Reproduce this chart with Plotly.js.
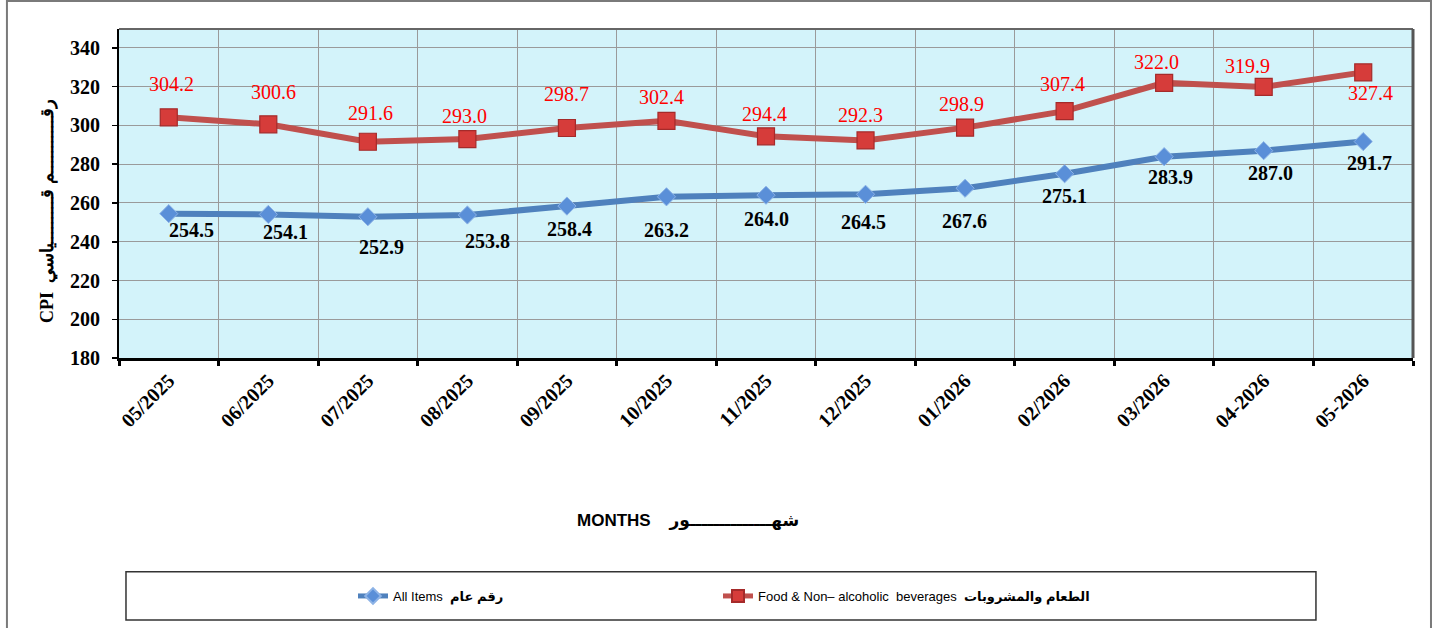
<!DOCTYPE html>
<html>
<head>
<meta charset="utf-8">
<script src="https://cdn.plot.ly/plotly-3.0.1.min.js"></script>
<style>
  html, body { margin: 0; padding: 0; background: #fff; }
  #chart { width: 1437px; height: 628px; }
</style>
</head>
<body>
<div id="chart"></div>
<script>
// ---- Data ----
const months = ["05/2025","06/2025","07/2025","08/2025","09/2025","10/2025","11/2025","12/2025","01/2026","02/2026","03/2026","04-2026","05-2026"];
const allItems = [254.5, 254.1, 252.9, 253.8, 258.4, 263.2, 264.0, 264.5, 267.6, 275.1, 283.9, 287.0, 291.7];
const foodBev  = [304.2, 300.6, 291.6, 293.0, 298.7, 302.4, 294.4, 292.3, 298.9, 307.4, 322.0, 319.9, 327.4];
const yTicks = [180, 200, 220, 240, 260, 280, 300, 320, 340];

const allName  = "All Items  <b>رقم عام</b>";
const foodName = "Food &amp; Non– alcoholic  beverages  <b>الطعام والمشروبات</b>";

// ---- Label placement offsets (style, pixels) ----
const foodLabelDx = [3, 5, 3, -3, 0, -5, -2, -5, -4, -2, -8, -16, 7];
const foodLabelDy = [33, 32, 29, 23, 34, 24, 22, 25, 24, 27, 21, 21, -21];
const allLabelDx  = [23, 17, 14, 20, 3, 0, 0, -2, -1, 0, 6, 7, 6];
const allLabelDy  = [-16, -18, -30, -26, -23, -33, -24, -28, -33, -22, -20, -22, -21];

const serif = "Liberation Serif, Times New Roman, DejaVu Serif, serif";
const sans = "Liberation Sans, Arial, DejaVu Sans, sans-serif";

const traces = [
  {
    x: months, y: allItems, type: "scatter", mode: "lines+markers",
    name: allName, legend: "legend",
    line: { color: "#4f81bd", width: 6 },
    marker: { symbol: "diamond", size: 14, color: "#5a8fd8",
      line: { color: "#8db3e6", width: 1 } },
    cliponaxis: false
  },
  {
    x: months, y: foodBev, type: "scatter", mode: "lines+markers",
    name: foodName, legend: "legend2",
    line: { color: "#c0504d", width: 6 },
    marker: { symbol: "square", size: 17, color: "#d63c3a",
      line: { color: "#a52a2a", width: 1.2 } },
    cliponaxis: false
  }
];

const annotations = [];
months.forEach((m, i) => {
  annotations.push({
    x: m, y: foodBev[i], xref: "x", yref: "y", showarrow: false,
    text: foodBev[i].toFixed(1), xshift: foodLabelDx[i], yshift: foodLabelDy[i],
    font: { family: serif, size: 20, color: "#ff0000" }
  });
  annotations.push({
    x: m, y: allItems[i], xref: "x", yref: "y", showarrow: false,
    text: "<b>" + allItems[i].toFixed(1) + "</b>", xshift: allLabelDx[i], yshift: allLabelDy[i],
    font: { family: serif, size: 20, color: "#000000" }
  });
});
// Axis titles
annotations.push({
  xref: "paper", yref: "paper", x: -0.0549, y: 0.447, xanchor: "center", yanchor: "middle",
  showarrow: false, textangle: -90, text: "<b>CPI  رقـــــــــــم قـــــــــياسي</b>",
  font: { family: serif, size: 18, color: "#000" }
});
annotations.push({
  xref: "paper", yref: "paper", x: 0.44, y: -0.495, xanchor: "center", yanchor: "middle",
  showarrow: false, text: "<b>MONTHS    شهــــــــــــــور</b>",
  font: { family: sans, size: 17, color: "#000" }
});

const shapes = [
  // outer chart border
  { type: "rect", xref: "paper", yref: "paper", x0: -0.0866, x1: 1.0139, y0: -0.9, y1: 1.085,
    line: { color: "#7a7a7a", width: 2 }, layer: "below" },
  // plot area top & right border
  { type: "line", xref: "paper", yref: "paper", x0: 0, x1: 1, y0: 1, y1: 1,
    line: { color: "#666", width: 2 }, layer: "above" },
  { type: "line", xref: "paper", yref: "paper", x0: 1, x1: 1, y0: 0, y1: 1,
    line: { color: "#555", width: 3 }, layer: "above" },
  // legend box
  { type: "rect", xref: "paper", yref: "paper", x0: 0.0054, x1: 0.925, y0: -0.796, y1: -0.650,
    line: { color: "#333", width: 1.5 }, layer: "below" }
];

const layout = {
  width: 1437, height: 628,
  margin: { l: 119, r: 24, t: 29, b: 270, pad: 0, autoexpand: false },
  paper_bgcolor: "#ffffff",
  plot_bgcolor: "#d3f3fa",
  showlegend: true,
  xaxis: {
    type: "category", range: [-0.5, 12.5], automargin: false,
    tickson: "boundaries", ticks: "outside", ticklen: 5, tickwidth: 3, tickcolor: "#000",
    showline: true, linecolor: "#000", linewidth: 3,
    showgrid: true, gridcolor: "#9a9a9a", gridwidth: 1,
    tickangle: -45, tickfont: { family: serif, size: 20, color: "#000", weight: "bold" },
    fixedrange: true
  },
  yaxis: {
    range: [180, 349.8], tickvals: yTicks, automargin: false,
    ticks: "outside", ticklen: 5, tickwidth: 1.5, tickcolor: "#000",
    showline: true, linecolor: "#000", linewidth: 2,
    showgrid: true, gridcolor: "#9a9a9a", gridwidth: 1, zeroline: false,
    tickfont: { family: serif, size: 20, color: "#000", weight: "bold" },
    ticklabelstandoff: 8,
    fixedrange: true
  },
  legend: {
    xref: "container", yref: "container", x: 353 / 1437, y: 1 - 596 / 628,
    xanchor: "left", yanchor: "middle", bgcolor: "rgba(0,0,0,0)",
    font: { family: sans, size: 13, color: "#000" }, itemsizing: "constant"
  },
  legend2: {
    xref: "container", yref: "container", x: 718 / 1437, y: 1 - 596 / 628,
    xanchor: "left", yanchor: "middle", bgcolor: "rgba(0,0,0,0)",
    font: { family: sans, size: 13, color: "#000" }, itemsizing: "constant"
  },
  annotations: annotations,
  shapes: shapes
};

Plotly.newPlot("chart", traces, layout, { staticPlot: true, displayModeBar: false });
</script>
</body>
</html>
